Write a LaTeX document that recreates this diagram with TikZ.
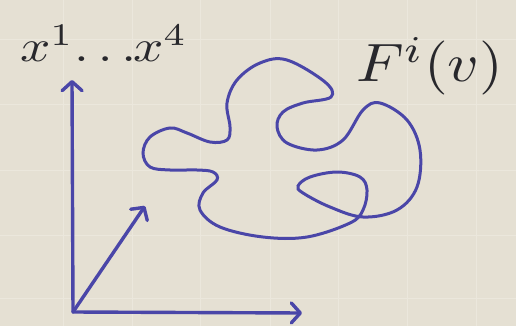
\documentclass[tikz,border=0pt]{standalone}
\usetikzlibrary{arrows.meta}
\definecolor{paper}{RGB}{229,224,211}
\definecolor{gridc}{RGB}{235,231,220}
\definecolor{ink}{RGB}{74,70,168}
\definecolor{txt}{RGB}{40,40,44}
\tikzset{
  axis/.style={draw=ink, line width=3.4pt, line cap=round,
    -{Straight Barb[length=9pt,width=20pt,line cap=round,line join=round]}},
  blob/.style={draw=ink, line width=3pt},
  lbl/.style={text=txt, inner sep=0pt}
}
\begin{document}
\begin{tikzpicture}[x=1pt,y=-1pt]
\fill[paper] (0,0) rectangle (516,326);
\useasboundingbox (0,0) rectangle (516,326);
% faint grid
\foreach \gx in {63,132,200,270,338,407,476}
  \draw[gridc, line width=1pt] (\gx,0) -- (\gx,326);
\foreach \gy in {40,105,170,235,298}
  \draw[gridc, line width=1pt] (0,\gy) -- (516,\gy);
% axes
\coordinate (O) at (73,312);
\coordinate (Y) at (72,80);
\coordinate (X) at (302,313);
\coordinate (Z) at (145,206);
\draw[axis] (O) -- (Y);
\draw[axis] (O) -- (X);
\draw[axis] (O) -- (Z);
% labels
\node[lbl, anchor=base west, scale=4.5, xscale=1.18] (xl) at (19,62) {$x^1\mskip-3mu\ldots\mskip-4mu x^4$};
\node[lbl, anchor=base west, scale=5.4, xscale=1.13] (fl) at (355,82) {$F^i(v)$};
% curve
\draw[blob] plot[smooth cycle, tension=0.6] coordinates {
(287,60) (325,82) (331,97) (303,103) (283,112) (277,127) (287,143) (317,150)
(343,140) (363,110) (380,103) (407,120) (420,150) (417,187) (397,210) (363,217)
(330,207) (303,193) (298,186) (310,177) (337,172) (360,177) (367,190) (363,210)
(350,223) (307,237) (263,237) (220,227) (200,210) (203,193) (217,180) (213,172)
(197,170) (170,170) (150,167) (143,153) (150,137) (170,128) (187,133) (210,142)
(227,140) (230,127) (227,103) (237,80) (260,63)};
\end{tikzpicture}
\end{document}
